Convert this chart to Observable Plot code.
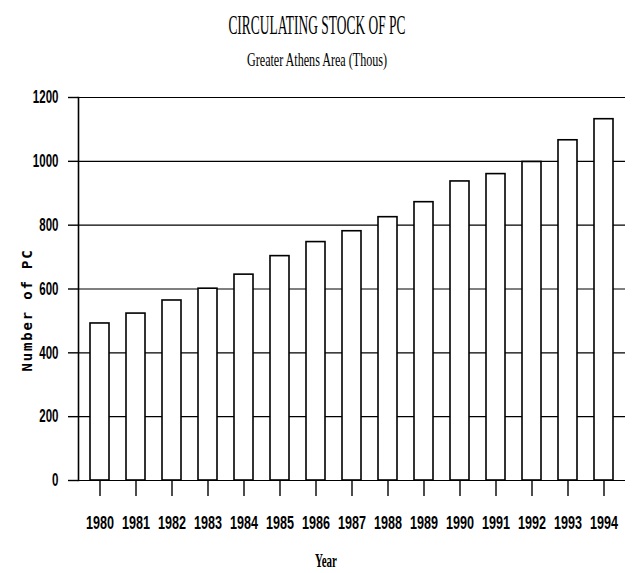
<!DOCTYPE html>
<html><head><meta charset="utf-8">
<script src="https://cdn.jsdelivr.net/npm/d3@7"></script>
<script src="https://cdn.jsdelivr.net/npm/@observablehq/plot@0.6"></script>
<style>
body{margin:0;background:#fff;}
#wrap{position:relative;width:634px;height:573px;overflow:hidden;background:#fff;}
#wrap svg{position:absolute;left:0;top:0;}
.t{position:absolute;left:0;width:634px;text-align:center;white-space:nowrap;color:#000;line-height:1;}
.t span{display:inline-block;transform-origin:center;}
#ylab{position:absolute;white-space:nowrap;font:bold 14px 'DejaVu Sans Mono';letter-spacing:1.8px;color:#000;transform:translate(-50%,-50%) rotate(-90deg);}
</style></head><body>
<div id="wrap"></div>
<script>
const years = ["1980","1981","1982","1983","1984","1985","1986","1987","1988","1989","1990","1991","1992","1993","1994"];
const values = [492, 523, 564, 601, 645, 703, 747, 781, 825, 872, 937, 960, 998, 1066, 1132];
const yTicks = [0, 200, 400, 600, 800, 1000, 1200];
const titleText = "CIRCULATING STOCK OF PC";
const subtitleText = "Greater Athens Area (Thous)";
const xLabel = "Year";
const yLabel = "Number of PC";

const data = years.map((y, i) => ({year: y, value: values[i]}));
const wrap = document.getElementById("wrap");

const chart = Plot.plot({
  width: 634, height: 573,
  marginLeft: 78, marginRight: 9, marginTop: 97, marginBottom: 93,
  x: {domain: years, paddingInner: 0.48, paddingOuter: 0.233, label: null, tickSize: 16, tickPadding: 20},
  y: {domain: [0, 1200], ticks: yTicks, tickFormat: d => String(d), label: null, tickSize: 10, tickPadding: 10},
  style: {fontFamily: "'Liberation Sans', Arial, sans-serif", fontWeight: "bold", fontSize: "18px", color: "#000", background: "#fff"},
  marks: [
    Plot.ruleY(yTicks, {stroke: "#000", strokeWidth: 1.1}),
    Plot.barY(data, {x: "year", y: "value", fill: "#fff", stroke: "#000", strokeWidth: 1.6}),
    Plot.frame({anchor: "left", stroke: "#000", strokeWidth: 1.6})
  ]
});
wrap.appendChild(chart);

// condense tick labels horizontally around their anchor point
function condense(sel, sx) {
  d3.select(chart).selectAll(sel).each(function(){
    const t = this.getAttribute("transform") || "";
    this.setAttribute("transform", `${t} scale(${sx},1)`);
  });
}
condense('g[aria-label="x-axis tick label"] text', 0.7);
condense('g[aria-label="y-axis tick label"] text', 0.64);
d3.select(chart).selectAll('g[aria-label$="tick"] path').attr("stroke-width", 1.4);

function addText(text, top, font, targetW) {
  const d = document.createElement("div");
  d.className = "t";
  d.style.top = top + "px";
  d.style.font = font;
  const s = document.createElement("span");
  s.textContent = text;
  d.appendChild(s);
  wrap.appendChild(d);
  const w = s.getBoundingClientRect().width;
  s.style.transform = `scaleX(${targetW / w})`;
  return d;
}
addText(titleText, 10, "27px 'Liberation Serif', serif", 177);
addText(subtitleText, 49, "19px 'Liberation Serif', serif", 140);
const yr = addText(xLabel, 551, "bold 18px 'Liberation Serif', serif", 22);
yr.style.left = "9px";

const yl = document.createElement("div");
yl.id = "ylab";
yl.textContent = yLabel;
yl.style.left = "27px";
yl.style.top = "310px";
wrap.appendChild(yl);
</script>
</body></html>
